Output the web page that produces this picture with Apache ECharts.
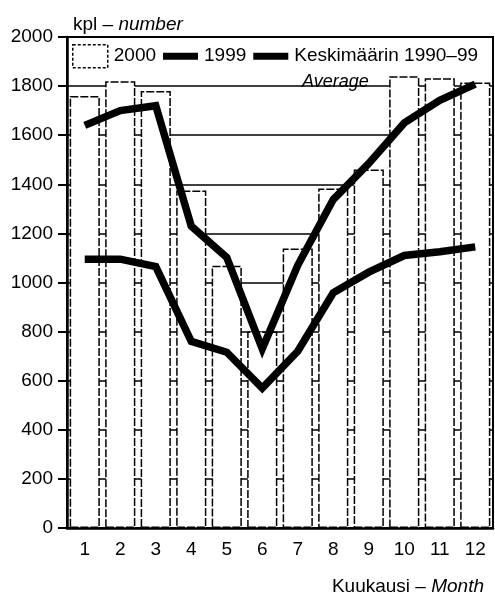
<!DOCTYPE html>
<html>
<head>
<meta charset="utf-8">
<script src="https://cdn.jsdelivr.net/npm/echarts@6/dist/echarts.min.js"></script>
<style>
html,body{margin:0;padding:0;background:#fff;}
#chart{width:495px;height:592px;}
</style>
</head>
<body>
<div id="chart"></div>
<script>
var months = ['1','2','3','4','5','6','7','8','9','10','11','12'];
var values2000 = [1760, 1820, 1780, 1375, 1068, 800, 1138, 1383, 1460, 1840, 1832, 1815];
var values1999 = [1640, 1700, 1720, 1230, 1102, 730, 1070, 1338, 1485, 1650, 1742, 1808];
var valuesAvg = [1095, 1095, 1065, 760, 716, 570, 720, 958, 1042, 1110, 1125, 1145];
var yTicks = {min: 0, max: 2000, interval: 200};

var FONT = '"Liberation Sans", Arial, sans-serif';
var chart = echarts.init(document.getElementById('chart'), null, {renderer: 'canvas'});
var linePath = 'path://M0,0 L36,0 L36,7 L0,7 Z';

chart.setOption({
  animation: false,
  backgroundColor: '#fff',
  textStyle: {fontFamily: FONT, color: '#000'},
  title: [
    {
      text: 'kpl – {i|number}',
      left: 68, top: 10,
      textStyle: {fontFamily: FONT, fontSize: 19, fontWeight: 'normal', color: '#000',
        rich: {i: {fontFamily: FONT, fontSize: 19, fontStyle: 'italic', color: '#000'}}}
    },
    {
      text: 'Average',
      left: 297, top: 68,
      textStyle: {fontFamily: FONT, fontSize: 18, fontWeight: 'normal', fontStyle: 'italic', color: '#000'}
    },
    {
      text: 'Kuukausi – {i|Month}',
      right: 6, top: 572,
      textStyle: {fontFamily: FONT, fontSize: 19, fontWeight: 'normal', color: '#000',
        rich: {i: {fontFamily: FONT, fontSize: 19, fontStyle: 'italic', color: '#000'}}}
    }
  ],
  legend: {
    left: 72, top: 44,
    itemWidth: 35, itemHeight: 23, itemGap: 7,
    padding: 0,
    textStyle: {fontFamily: FONT, fontSize: 19, color: '#000', padding: [0, 0, 0, 1]},
    data: [
      {name: '2000', icon: 'rect', itemStyle: {color: '#fff', borderColor: '#000', borderWidth: 1.5, borderType: [3, 2]}},
      {name: '1999', icon: linePath, itemStyle: {color: '#000'}},
      {name: 'Keskimäärin 1990–99', icon: linePath, itemStyle: {color: '#000'}}
    ]
  },
  grid: {
    left: 67, right: 2, top: 37, bottom: 64,
    show: true, borderColor: '#000', borderWidth: 2, backgroundColor: 'transparent'
  },
  xAxis: {
    type: 'category',
    data: months,
    boundaryGap: true,
    axisLine: {lineStyle: {color: '#000', width: 2.5}},
    axisTick: {alignWithLabel: true, length: 8, lineStyle: {color: '#000', width: 2}},
    axisLabel: {color: '#000', fontFamily: FONT, fontSize: 19, margin: 12},
    splitLine: {show: false}
  },
  yAxis: {
    type: 'value',
    min: yTicks.min, max: yTicks.max, interval: yTicks.interval,
    axisLine: {show: true, lineStyle: {color: '#000', width: 2.5}},
    axisTick: {show: true, length: 9, lineStyle: {color: '#000', width: 2}},
    axisLabel: {color: '#000', fontFamily: FONT, fontSize: 19, margin: 14,
      formatter: function (v) { return String(v); }},
    splitLine: {show: true, lineStyle: {color: '#000', width: 1.5}}
  },
  series: [
    {
      name: '2000', type: 'bar', data: values2000,
      barWidth: '85%', z: 2,
      itemStyle: {color: '#fff', borderColor: '#000', borderWidth: 1.5, borderType: [8, 2]}
    },
    {
      name: '1999', type: 'line', data: values1999,
      showSymbol: false, symbol: 'none', z: 5,
      lineStyle: {color: '#000', width: 7.5, cap: 'butt', join: 'miter'},
      itemStyle: {color: '#000'}
    },
    {
      name: 'Keskimäärin 1990–99', type: 'line', data: valuesAvg,
      showSymbol: false, symbol: 'none', z: 5,
      lineStyle: {color: '#000', width: 7.5, cap: 'butt', join: 'miter'},
      itemStyle: {color: '#000'}
    }
  ]
});
</script>
</body>
</html>
